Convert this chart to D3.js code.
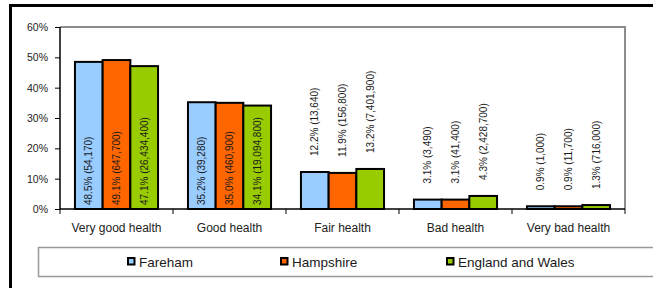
<html>
<script src="https://d3js.org/d3.v7.min.js"></script>
<body style="margin:0; background:#fff">
<svg width=653 height=288></svg>
<script>
// chart values
var categories = ["Very good health", "Good health", "Fair health", "Bad health", "Very bad health"];
var seriesNames = ["Fareham", "Hampshire", "England and Wales"];
var farehamPct = [48.5, 35.2, 12.2, 3.1, 0.9];
var farehamCount = [54170, 39280, 13640, 3490, 1000];
var hampshirePct = [49.1, 35.0, 11.9, 3.1, 0.9];
var hampshireCount = [647700, 460900, 156800, 41400, 11700];
var ewPct = [47.1, 34.1, 13.2, 4.3, 1.3];
var ewCount = [26434400, 19094800, 7401900, 2428700, 716000];
var yTicks = [0, 10, 20, 30, 40, 50, 60];
var colors = ["#99CCFF", "#FF6600", "#99CC00"];

var pcts = [farehamPct, hampshirePct, ewPct];
var counts = [farehamCount, hampshireCount, ewCount];

var svg = d3.select("svg");
var font = "'Liberation Sans', Arial, sans-serif";
var margin = {top: 27, left: 60, right: 28, bottom: 79};
var width = 653, height = 288;

// outer chart frame (runs off the picture at right and bottom)
svg.append("rect")
	.attr("x", 10.5).attr("y", 5.5)
	.attr("width", 700).attr("height", 400)
	.attr("fill", "none").attr("stroke", "#000").attr("stroke-width", 3);

var x0 = d3.scaleBand().domain(categories).range([margin.left, width - margin.right]);
var x1 = d3.scaleBand().domain(seriesNames).range([0, x0.bandwidth()])
	.paddingInner(0).paddingOuter(0.54);
var y = d3.scaleLinear().domain([0, 60]).range([height - margin.bottom, margin.top]);

// plot area border (top and right)
svg.append("path")
	.attr("d", `M${margin.left},${margin.top}H${width - margin.right}V${y(0)}`)
	.attr("fill", "none").attr("stroke", "#8c8c8c").attr("stroke-width", 2);

// bars
var data = [];
categories.forEach(function(c, i) {
	seriesNames.forEach(function(s, j) {
		data.push({cat: c, series: s, j: j, pct: pcts[j][i], count: counts[j][i]});
	});
});

var bars = svg.append("g").selectAll("rect")
	.data(data).enter().append("rect")
	.attr("x", d => x0(d.cat) + x1(d.series))
	.attr("y", d => y(d.pct))
	.attr("width", x1.bandwidth())
	.attr("height", d => y(0) - y(d.pct))
	.attr("fill", d => colors[d.j])
	.attr("stroke", "#000").attr("stroke-width", 2);

// data labels, rotated
var labels = svg.append("g").selectAll("text")
	.data(data).enter().append("text")
	.attr("font-family", font).attr("font-size", "10px").attr("fill", "#1a1a1a")
	.attr("text-anchor", "start").attr("dominant-baseline", "central")
	.text(d => d.pct.toFixed(1) + "% (" + d3.format(",")(d.count) + ")");
labels.each(function(d) {
	var len = this.getComputedTextLength();
	var cx = x0(d.cat) + x1(d.series) + x1.bandwidth() / 2;
	var h = y(0) - y(d.pct);
	var start = (h > len + 10) ? y(0) - 4 : y(d.pct) - 16;
	d3.select(this).attr("transform", `translate(${cx},${start}) rotate(-90)`);
});

// axes
var yAxis = svg.append("g")
	.attr("transform", `translate(${margin.left},0)`)
	.call(d3.axisLeft(y).tickValues(yTicks).tickFormat(d => d + "%").tickSize(5).tickPadding(7));
var xAxis = svg.append("g")
	.attr("transform", `translate(0,${y(0)})`)
	.call(d3.axisBottom(x0).tickSize(0).tickPadding(14));
// category boundary ticks
svg.append("g").selectAll("line")
	.data(d3.range(categories.length + 1)).enter().append("line")
	.attr("x1", i => margin.left + i * x0.step()).attr("x2", i => margin.left + i * x0.step())
	.attr("y1", y(0)).attr("y2", y(0) + 5)
	.attr("stroke", "#000").attr("stroke-width", 1);

[yAxis, xAxis].forEach(function(g) {
	g.select(".domain").attr("stroke", "#000").attr("stroke-width", 1.5);
	g.selectAll(".tick line").attr("stroke", "#000");
	g.selectAll("text").attr("font-family", font).attr("fill", "#222");
});
yAxis.select(".domain").attr("d", `M0,${margin.top}V${y(0)}`);
yAxis.selectAll("text").attr("font-size", "10.5px");
xAxis.select(".domain").attr("d", `M${margin.left},0H${width - margin.right}`);
xAxis.selectAll("text").attr("font-size", "12px");

// legend box
var legend = svg.append("g");
legend.append("rect")
	.attr("x", 38.5).attr("y", 247.5).attr("width", 660).attr("height", 29)
	.attr("fill", "#fff").attr("stroke", "#999").attr("stroke-width", 1.5);
var legendX = [127, 280, 446];
var items = legend.selectAll("g.item")
	.data(seriesNames).enter().append("g")
	.attr("transform", (d, i) => `translate(${legendX[i]},0)`);
items.append("rect")
	.attr("x", 1).attr("y", 258).attr("width", 6.5).attr("height", 6.5)
	.attr("fill", (d, i) => colors[i]).attr("stroke", "#000").attr("stroke-width", 2);
items.append("text")
	.attr("x", 12).attr("y", 266.5)
	.attr("font-family", font).attr("font-size", "13.5px").attr("fill", "#1a1a1a")
	.text(d => d);
</script>
</body>
</html>
